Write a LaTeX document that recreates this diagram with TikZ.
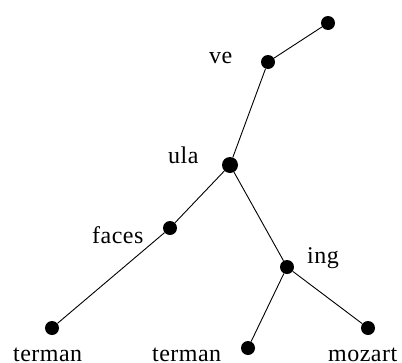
\documentclass[tikz,border=0pt]{standalone}
\usepackage{fontspec}
\setmainfont{Liberation Serif}
\newfontfamily\lblfont[LetterSpace=2]{Liberation Serif}
\usetikzlibrary{positioning}
\tikzset{
  dot/.style   ={circle,fill=black,inner sep=0pt,minimum size=14pt},
  bigdot/.style={dot,minimum size=16pt},
  lbl/.style   ={font=\lblfont\fontsize{24}{26}\selectfont,inner sep=0pt,anchor=base west},
  edge/.style  ={draw=black,line width=.9pt},
}
\begin{document}
\begin{tikzpicture}[x=1pt,y=-1pt]
\useasboundingbox (0,0) rectangle (402,362);

% tree nodes
\node[dot]    (top)   at (328,23)  {};
\node[dot]    (ve)    at (268,62)  {};
\node[bigdot] (ula)   at (230,165) {};
\node[dot]    (faces) at (170,228) {};
\node[dot]    (ing)   at (287,267) {};
\node[dot]    (lf1)   at (52,328)  {};
\node[dot]    (lf2)   at (248,348) {};
\node[dot]    (lf3)   at (368,328) {};

\draw[edge](top)--(ve); \draw[edge](ve)--(ula);
\draw[edge](ula)--(faces); \draw[edge](ula)--(ing);
\draw[edge](faces)--(lf1);
\draw[edge](ing)--(lf2); \draw[edge](ing)--(lf3);

% labels
\node[lbl] (tve)    at (209,63)  {ve};
\node[lbl] (tula)   at (168,163) {ula};
\node[lbl] (tfaces) at (92,243)  {faces};
\node[lbl] (ting)   at (307,263) {ing};
\node[lbl] (tlf1)   at (13,361)  {terman};
\node[lbl] (tlf2)   at (152,361) {terman};
\node[lbl] (tlf3)   at (328,361) {mozart};
\end{tikzpicture}
\end{document}
